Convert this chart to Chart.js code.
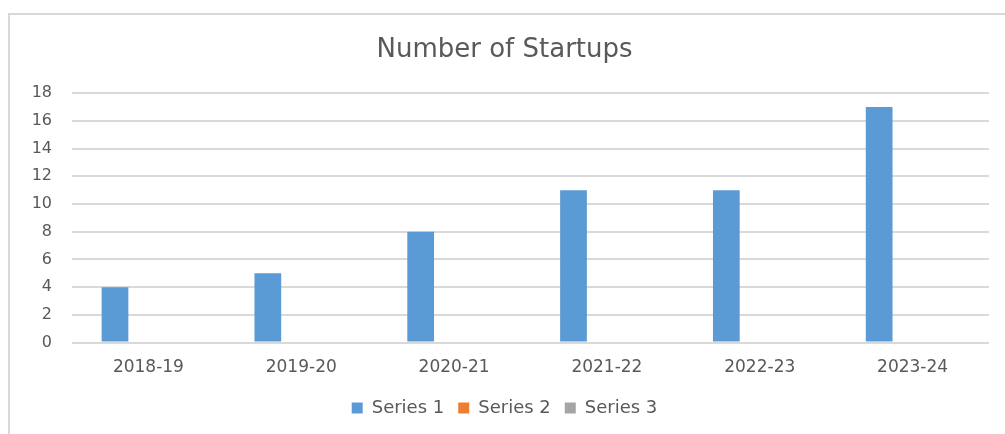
<!DOCTYPE html>
<html>
<head>
<meta charset="utf-8">
<script src="https://cdn.jsdelivr.net/npm/chart.js@4/dist/chart.umd.min.js"></script>
<style>
  html, body { margin: 0; padding: 0; background: #fff; overflow: hidden; }
  #frame {
    position: absolute; left: 8px; top: 13px; width: 1010px; height: 440px;
    border: 2px solid #d9d9d9; box-sizing: border-box;
  }
  #wrap { position: absolute; left: 0; top: 0; width: 1005px; height: 434px; }
</style>
</head>
<body>
<div id="frame"></div>
<div id="wrap"><canvas id="myChart"></canvas></div>
<script>
const categories = ['2018-19', '2019-20', '2020-21', '2021-22', '2022-23', '2023-24'];
const series1 = [4, 5, 8, 11, 11, 17];
const series2 = [null, null, null, null, null, null];
const series3 = [null, null, null, null, null, null];
const yTicks = [0, 2, 4, 6, 8, 10, 12, 14, 16, 18];

const textColor = '#595959';
const fontFamily = '"DejaVu Sans", sans-serif';

const ctx = document.getElementById('myChart');
new Chart(ctx, {
  type: 'bar',
  data: {
    labels: categories,
    datasets: [
      { label: 'Series 1', data: series1, backgroundColor: '#5b9bd5' },
      { label: 'Series 2', data: series2, backgroundColor: '#ed7d31' },
      { label: 'Series 3', data: series3, backgroundColor: '#a5a5a5' }
    ]
  },
  options: {
    responsive: true,
    maintainAspectRatio: false,
    animation: false,
    categoryPercentage: 0.656,
    barPercentage: 0.8,
    layout: { padding: { left: 20, right: 16, top: 31, bottom: 7 } },
    plugins: {
      title: {
        display: true,
        text: 'Number of Startups',
        color: textColor,
        font: { family: fontFamily, size: 26, weight: 'normal' },
        padding: { top: 4, bottom: 27 }
      },
      legend: {
        position: 'bottom',
        labels: {
          color: textColor,
          font: { family: fontFamily, size: 18 },
          boxWidth: 11,
          boxHeight: 11,
          padding: 14
        }
      },
      tooltip: { enabled: false }
    },
    scales: {
      x: {
        grid: { display: false },
        border: { display: false },
        ticks: { color: textColor, font: { family: fontFamily, size: 17 }, padding: 7 }
      },
      y: {
        min: 0,
        max: 18,
        afterBuildTicks: (axis) => { axis.ticks = yTicks.map(v => ({ value: v })); },
        afterFit: (axis) => { axis.width = 52; },
        grid: { color: '#d9d9d9', lineWidth: 2, drawTicks: false },
        border: { display: false },
        ticks: { color: textColor, font: { family: fontFamily, size: 16 }, padding: 20 }
      }
    }
  }
});
</script>
</body>
</html>
